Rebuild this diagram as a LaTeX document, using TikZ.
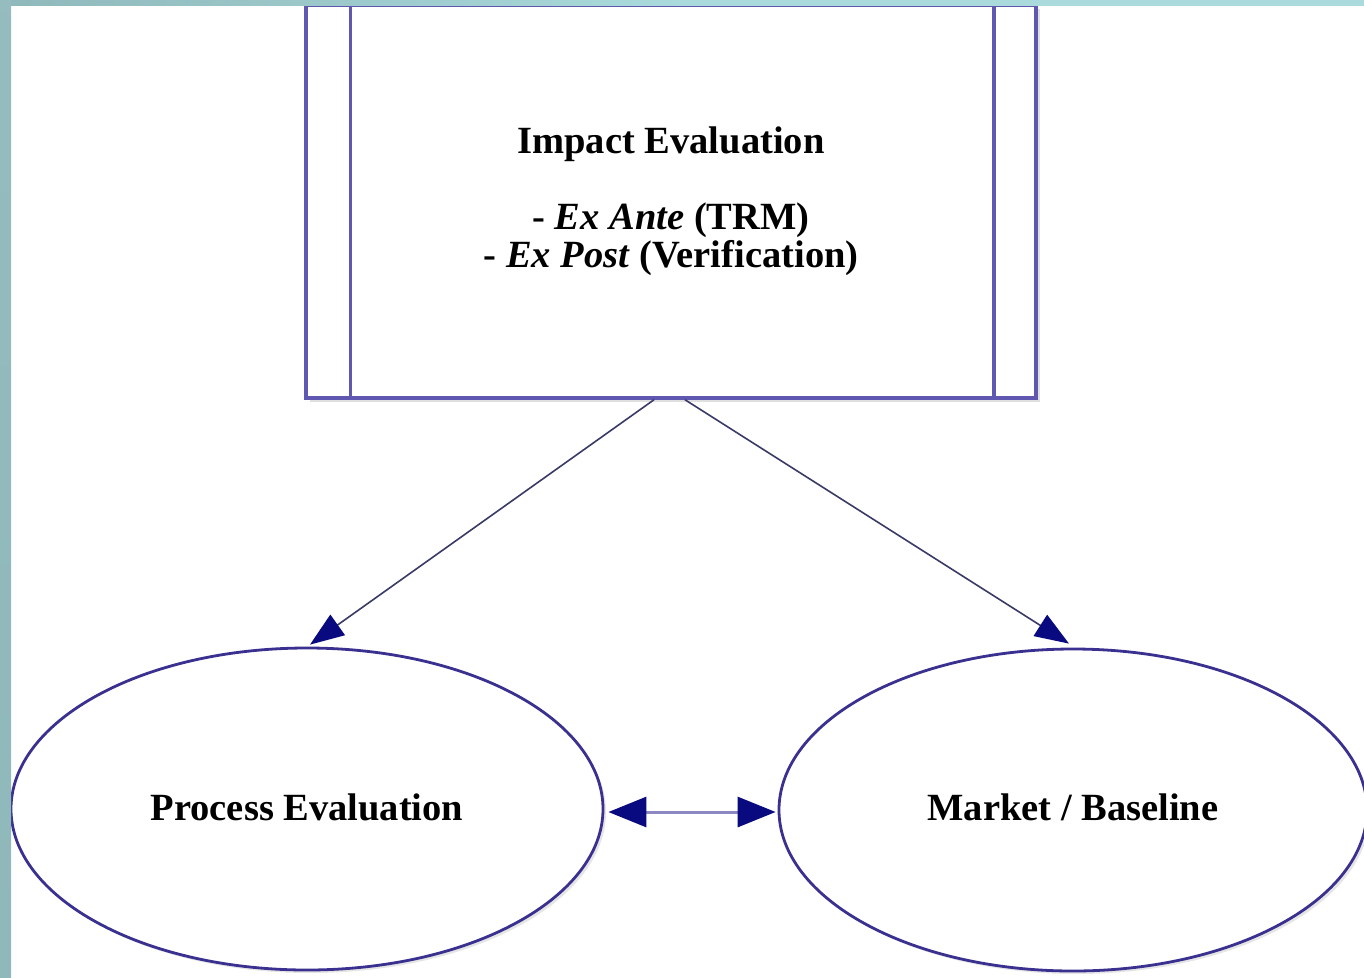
\documentclass[tikz,border=0pt]{standalone}
\usepackage{fontspec}
\setmainfont{Liberation Serif}
\usetikzlibrary{arrows.meta,shapes.geometric,shadows}
\definecolor{strip}{HTML}{8FB8BB}
\definecolor{stripmid}{HTML}{AADADB}
\definecolor{boxline}{HTML}{6058B0}
\definecolor{ellline}{HTML}{3A3090}
\definecolor{arrline}{HTML}{3A3A66}
\definecolor{headcol}{HTML}{0A0A80}
\definecolor{dblline}{HTML}{8C88C4}
\tikzset{
  impbox/.style={draw=boxline, line width=3.5pt, fill=white, minimum width=730pt, minimum height=393pt, inner sep=0pt,
    drop shadow={shadow xshift=4pt, shadow yshift=-4pt, opacity=0.25, fill=gray}},
  evalell/.style={ellipse, draw=ellline, line width=2.8pt, fill=white, minimum width=592pt, minimum height=322pt, inner sep=0pt,
    drop shadow={shadow xshift=3pt, shadow yshift=-3pt, opacity=0.2, fill=gray}},
  lbl/.style={font=\fontsize{38.5}{38}\selectfont\bfseries, align=center},
  conn/.style={draw=arrline, line width=1.6pt, -{Triangle[length=34pt,width=25pt,fill=headcol,color=headcol]}},
  dbl/.style={draw=dblline, line width=3pt, {Triangle[length=38pt,width=30pt,fill=headcol,color=headcol]}-{Triangle[length=38pt,width=30pt,fill=headcol,color=headcol]}},
}
\begin{document}
\begin{tikzpicture}[x=1pt,y=-1pt]
\useasboundingbox (0,0) rectangle (1364,977);
\fill[white] (0,0) rectangle (1364,977);
% box
\node[impbox, lbl] (imp) at (671,201.5) {Impact Evaluation\\[38pt]- \textit{Ex Ante} (TRM)\\- \textit{Ex Post} (Verification)};
\draw[boxline, line width=3.5pt] ([xshift=46pt]imp.north west) -- ([xshift=46pt]imp.south west);
\draw[boxline, line width=3.5pt] ([xshift=-44pt]imp.north east) -- ([xshift=-44pt]imp.south east);
% ellipses
\node[evalell, lbl] (pe) at (307,809) {\raisebox{4pt}{Process Evaluation}};
\node[evalell, lbl, minimum width=588pt] (mb) at (1073,810) {\raisebox{5pt}{Market / Baseline}};
% connectors
\draw[conn] ([xshift=-17pt]imp.south) -- ([xshift=3pt,yshift=2pt]pe.north);
\draw[conn] ([xshift=14pt]imp.south) -- ([xshift=-4pt,yshift=4pt]mb.north);
\draw[dbl, shorten <=4pt, shorten >=2pt] ([yshift=-3pt]pe.east) -- ([yshift=-3pt]pe.east -| mb.west);
% frame strips
\shade[left color=strip, right color=stripmid, middle color=stripmid] (0,0) rectangle (1364,5);
\shade[top color=strip!95!white, bottom color=strip] (0,0) rectangle (11,977);
\end{tikzpicture}
\end{document}
